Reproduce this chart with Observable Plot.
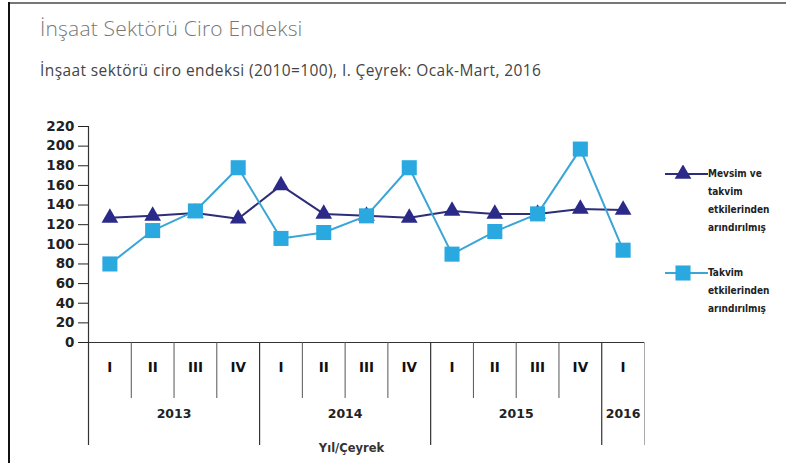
<!DOCTYPE html>
<html><head><meta charset="utf-8">
<script src="https://cdn.jsdelivr.net/npm/d3@7"></script>
<script src="https://cdn.jsdelivr.net/npm/@observablehq/plot@0.6"></script>
<style>
body{margin:0;background:#fff;}
#wrap{position:relative;width:786px;height:463px;overflow:hidden;background:#fff;}
#frameTop{position:absolute;left:9px;top:2px;width:777px;height:2px;background:#777;}
#frameLeft{position:absolute;left:8px;top:2px;width:2px;height:461px;background:#111;}
#head{position:relative;height:100px;}
#title{position:absolute;left:40px;top:14px;font:300 21px "Open Sans";letter-spacing:0.2px;color:#777;white-space:nowrap;}
#subtitle{position:absolute;left:40px;top:59px;font:400 15.5px "Open Sans";letter-spacing:0.4px;color:#444;white-space:nowrap;}
.leg{position:absolute;left:665px;display:flex;align-items:flex-start;}
.leg svg{display:block;}
.leg .t{font:bold 10px "DejaVu Sans Condensed","DejaVu Sans";color:#222;line-height:18px;}
</style></head>
<body>
<div id="wrap">
  <div id="frameTop"></div>
  <div id="frameLeft"></div>
  <div id="head">
    <div id="title">İnşaat Sektörü Ciro Endeksi</div>
    <div id="subtitle">İnşaat sektörü ciro endeksi (2010=100), I. Çeyrek: Ocak-Mart, 2016</div>
  </div>
  <div id="chart"></div>
  <div class="leg" id="leg1" style="top:165px"></div>
  <div class="leg" id="leg2" style="top:264px"></div>
</div>
<script>
const quarters = ["I","II","III","IV","I","II","III","IV","I","II","III","IV","I"];
const years = ["2013","2013","2013","2013","2014","2014","2014","2014","2015","2015","2015","2015","2016"];
const seasonal = [127,129,132,126,160,131,129,127,134,131,131,136,135];
const calendar = [80,114,134,178,106,112,129,178,90,113,131,197,94];
const yTicks = [0,20,40,60,80,100,120,140,160,180,200,220];
const seriesNames = ["Mevsim ve takvim etkilerinden arındırılmış", "Takvim etkilerinden arındırılmış"];
const legendLines = [["Mevsim ve","takvim","etkilerinden","arındırılmış"],["Takvim","etkilerinden","arındırılmış"]];
const axisTitle = "Yıl/Çeyrek";

const navy = "#2c2a88";
const navyLine = "#2e2d78";
const blue = "#2aa9e0";
const blueLine = "#3aa5d6";

const n = quarters.length;
const rows = quarters.map((q, i) => ({i, x: i + 0.5, q, year: years[i], s: seasonal[i], c: calendar[i]}));
const bounds = [0];
for (let i = 1; i < n; i++) if (years[i] !== years[i - 1]) bounds.push(i);
bounds.push(n);
const yearGroups = [];
for (let k = 0; k < bounds.length - 1; k++) yearGroups.push({center: (bounds[k] + bounds[k + 1]) / 2, label: years[bounds[k]]});
const shortTicks = d3.range(1, n).filter(i => !bounds.includes(i));

const chart = Plot.plot({
  width: 786,
  height: 363,
  marginTop: 26,
  marginBottom: 121,
  marginLeft: 88,
  marginRight: 142,
  x: {domain: [0, n]},
  y: {domain: [0, 220]},
  style: {fontFamily: "DejaVu Sans", background: "transparent", overflow: "visible"},
  marks: [
    Plot.axisY({ticks: yTicks, tickSize: 10, tickPadding: 4, fontSize: 13.5, fontWeight: "bold", color: "#222", label: null}),
    Plot.ruleX([0], {stroke: "#333", strokeWidth: 1.2}),
    Plot.ruleY([0], {stroke: "#333", strokeWidth: 1.2}),
    Plot.axisX({ticks: shortTicks, tickSize: 56, tickFormat: () => "", stroke: "#555", label: null}),
    Plot.axisX({ticks: bounds.slice(0, -1), tickSize: 103, tickFormat: () => "", stroke: "#333", strokeWidth: 1.2, label: null}),
    Plot.axisX({ticks: [n], tickSize: 103, tickFormat: () => "", stroke: "#aaa", label: null}),
    Plot.axisX({ticks: rows.map(d => d.x), tickSize: 0, tickPadding: 20, tickFormat: d => quarters[Math.floor(d)], fontSize: 13.5, fontWeight: "bold", color: "#111", label: null}),
    Plot.axisX({ticks: yearGroups.map(d => d.center), tickSize: 0, tickPadding: 67, tickFormat: d => yearGroups.find(g => g.center === d).label, fontSize: 12.5, fontWeight: "bold", color: "#222", label: null}),
    Plot.text([axisTitle], {text: d => d, frameAnchor: "bottom", dx: -15, dy: 109, fontSize: 11.5, fontWeight: "bold", fill: "#333"}),
    Plot.line(rows, {x: "x", y: "s", stroke: navyLine, strokeWidth: 2}),
    Plot.dot(rows, {x: "x", y: "s", symbol: "triangle", r: 6.2, fill: navy}),
    Plot.line(rows, {x: "x", y: "c", stroke: blueLine, strokeWidth: 2}),
    Plot.dot(rows, {x: "x", y: "c", symbol: "square", r: 8.5, fill: blue})
  ]
});
document.getElementById("chart").appendChild(chart);

function legendItem(el, sym, color, lineColor, lines) {
  const s = d3.create("svg").attr("width", 43).attr("height", 18);
  s.append("line").attr("x1", 0).attr("x2", 43).attr("y1", 9).attr("y2", 9).attr("stroke", lineColor).attr("stroke-width", 2);
  s.append("path").attr("transform", "translate(18,9)").attr("d", d3.symbol(sym, sym === d3.symbolSquare ? 227 : 121)()).attr("fill", color);
  el.appendChild(s.node());
  const t = document.createElement("div");
  t.className = "t";
  t.innerHTML = lines.join("<br>");
  el.appendChild(t);
}
legendItem(document.getElementById("leg1"), d3.symbolTriangle, navy, navyLine, legendLines[0]);
legendItem(document.getElementById("leg2"), d3.symbolSquare, blue, blueLine, legendLines[1]);
</script>
</body></html>
